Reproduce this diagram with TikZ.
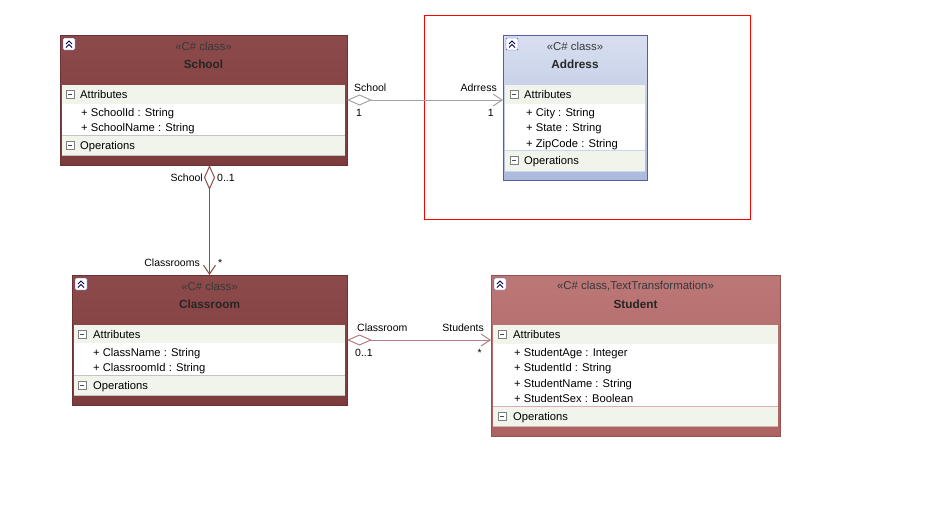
\documentclass[tikz,border=0pt]{standalone}
\usepackage{fontspec}
\setmainfont{Liberation Sans}
\usetikzlibrary{arrows.meta,calc}

\definecolor{schoolTop}{HTML}{8D4A4A}
\definecolor{schoolBot}{HTML}{7C3C3C}
\definecolor{studTop}{HTML}{BC7777}
\definecolor{studBot}{HTML}{AD6262}
\definecolor{addrTop}{HTML}{D8DFF0}
\definecolor{addrBot}{HTML}{ABB9DC}
\definecolor{bandgreen}{HTML}{F1F4EB}
\definecolor{sepgray}{HTML}{C4C4C4}
\definecolor{lnkgray}{HTML}{A4A4A4}
\definecolor{lnkbrown}{HTML}{8C4C4C}
\definecolor{lnkpink}{HTML}{B47E7E}

\tikzset{
  classbox/.style={draw, rectangle, anchor=north west, inner sep=0pt, outer sep=0pt},
  txt/.style={font=\fontsize{11.2}{13}\selectfont, inner sep=0pt, anchor=base west},
  stereo/.style={font=\fontsize{11.4}{13}\selectfont, inner sep=0pt, text=black!78},
  title/.style={font=\fontsize{11.8}{14}\selectfont\bfseries, inner sep=0pt, text=black!85},
  band/.style={fill=bandgreen},
  sep/.style={draw=sepgray, line width=0.8pt},
  lbl/.style={font=\fontsize{10.5}{12}\selectfont, inner sep=0pt},
  agg/.style={line width=1pt,
    {Diamond[fill=white,length=25pt,width=11pt]}-{Straight Barb[length=9pt,width=12pt]}},
  foldbox/.pic={
    \draw[draw=blue!45!gray, fill=white, rounded corners=1pt] (0,0) rectangle (12,12);
    \draw[blue!35!black, line width=0.9pt] (3,6) -- (6,3) -- (9,6) (3,9.5) -- (6,6.5) -- (9,9.5);
  },
  minusbox/.pic={
    \draw[gray, fill=white] (0,0) rectangle (8,8);
    \draw[black!70] (2,4) -- (6,4);
  }
}

\begin{document}
\begin{tikzpicture}[x=1pt,y=-1pt]
\fill[white] (0,0) rectangle (935,507);
\useasboundingbox (0,0) rectangle (935,507);

% address group frame
\draw[red, line width=0.8pt] (424,15) rectangle (750,219);

% School
\node[classbox, draw=schoolBot!85!black, top color=schoolTop, bottom color=schoolBot,
      minimum width=287pt, minimum height=130pt] (school) at (60,35) {};
\fill[white] (62,85) rectangle (345,155);
\fill[band] (62,85) rectangle (345,104);
\fill[band] (62,136) rectangle (345,155);
\draw[sep] (62,135.5) -- (345,135.5) (62,155) -- (345,155);
\pic at (63,38) {foldbox};
\node[stereo] (schoolst) at (203.5,46) {«C\# class»};
\node[title] (schoolti) at (203.5,64) {School};
\pic at (66,90) {minusbox};
\node[txt] (schoolat) at (80,98) {Attributes};
\node[txt] (schoola1) at (81,116) {+ SchoolId : String};
\node[txt] (schoola2) at (81,131) {+ SchoolName : String};
\pic at (66,141) {minusbox};
\node[txt] (schoolop) at (80,149) {Operations};

% Address
\node[classbox, draw=blue!30!gray, top color=addrTop, bottom color=addrBot,
      minimum width=144pt, minimum height=145pt] (address) at (503,35) {};
\fill[white] (505,85) rectangle (645,171);
\fill[band] (505,85) rectangle (645,104);
\fill[band] (505,151) rectangle (645,171);
\draw[sep, draw=addrBot!60] (505,150.5) -- (645,150.5) (505,171) -- (645,171);
\pic at (506,38) {foldbox};
\node[stereo] (addressst) at (575,46) {«C\# class»};
\node[title] (addressti) at (575,64) {Address};
\pic at (510,90) {minusbox};
\node[txt] (addressat) at (524,98) {Attributes};
\node[txt] (addressa1) at (526,116) {+ City : String};
\node[txt] (addressa2) at (526,131) {+ State : String};
\node[txt] (addressa3) at (526,147) {+ ZipCode : String};
\pic at (510,156) {minusbox};
\node[txt] (addressop) at (524,164) {Operations};

% Classroom
\node[classbox, draw=schoolBot!85!black, top color=schoolTop, bottom color=schoolBot,
      minimum width=275pt, minimum height=130pt] (classroom) at (72,275) {};
\fill[white] (74,325) rectangle (345,395);
\fill[band] (74,325) rectangle (345,343);
\fill[band] (74,376) rectangle (345,395);
\draw[sep] (74,375.5) -- (345,375.5) (74,395) -- (345,395);
\pic at (75,278) {foldbox};
\node[stereo] (classroomst) at (209.5,286) {«C\# class»};
\node[title] (classroomti) at (209.5,304) {Classroom};
\pic at (78,330) {minusbox};
\node[txt] (classroomat) at (93,338) {Attributes};
\node[txt] (classrooma1) at (93,356) {+ ClassName : String};
\node[txt] (classrooma2) at (93,371) {+ ClassroomId : String};
\pic at (78,381) {minusbox};
\node[txt] (classroomop) at (93,389) {Operations};

% Student
\node[classbox, draw=studBot!85!black, top color=studTop, bottom color=studBot,
      minimum width=289pt, minimum height=161pt] (student) at (491,275) {};
\fill[white] (493,325) rectangle (778,426);
\fill[band] (493,325) rectangle (778,344);
\fill[band] (493,407) rectangle (778,426);
\draw[sep, draw=studBot!50] (493,406.5) -- (778,406.5) (493,426) -- (778,426);
\pic at (494,278) {foldbox};
\node[stereo] (studentst) at (635.5,286) {«C\# class,TextTransformation»};
\node[title] (studentti) at (635.5,304) {Student};
\pic at (498,330) {minusbox};
\node[txt] (studentat) at (513,338) {Attributes};
\node[txt] (studenta1) at (514,356) {+ StudentAge : Integer};
\node[txt] (studenta2) at (514,371) {+ StudentId : String};
\node[txt] (studenta3) at (514,387) {+ StudentName : String};
\node[txt] (studenta4) at (514,402) {+ StudentSex : Boolean};
\pic at (498,412) {minusbox};
\node[txt] (studentop) at (513,420) {Operations};

% associations
\draw[agg, lnkgray] (school.east) -- (school.east -| address.west);
\draw[agg, lnkbrown] (classroom.north |- school.south) -- (classroom.north);
\draw[agg, lnkpink] (classroom.east) -- (classroom.east -| student.west);

% association ends
\node[lbl, anchor=base west] (saa) at (354,91) {School};
\node[lbl, anchor=base west] (sam) at (356,116) {1};
\node[lbl, anchor=base east] (sab) at (497,91) {Adrress};
\node[lbl, anchor=base east] (sbm) at (494,116) {1};
\node[lbl, anchor=base east] (sca) at (203,181) {School};
\node[lbl, anchor=base west] (scm) at (217,181) {0..1};
\node[lbl, anchor=base east] (scb) at (200,266) {Classrooms};
\node[lbl, anchor=base west] (scn) at (218,266) {*};
\node[lbl, anchor=base west] (csa) at (357,331) {Classroom};
\node[lbl, anchor=base west] (csm) at (355,356) {0..1};
\node[lbl, anchor=base east] (csb) at (484,331) {Students};
\node[lbl, anchor=base east] (csn) at (482,356) {*};
\end{tikzpicture}
\end{document}
